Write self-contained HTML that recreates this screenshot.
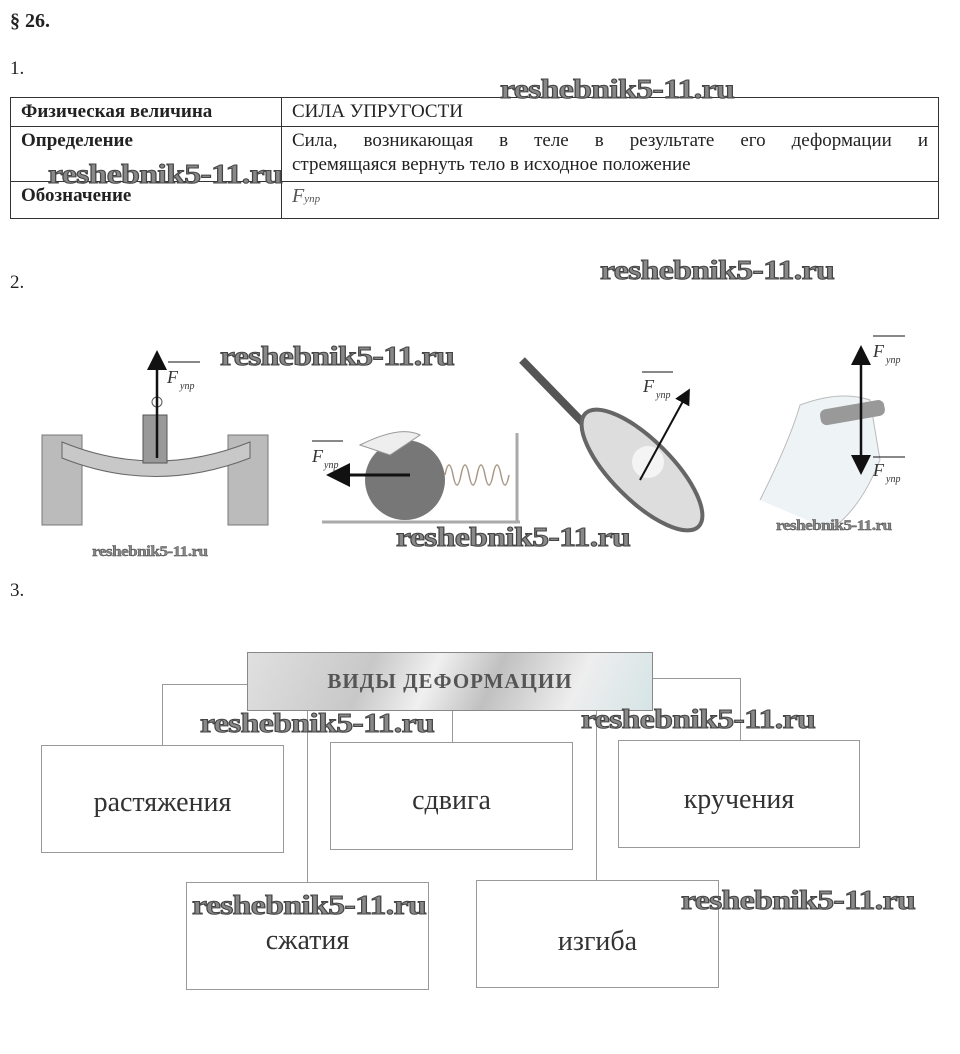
<!DOCTYPE html>
<html><head><meta charset="utf-8"><style>
body{margin:0;width:960px;height:1054px;background:#fff;position:relative;overflow:hidden;font-family:"Liberation Serif","DejaVu Serif",serif;color:#222}
.a{position:absolute}
.wm{position:absolute;font-family:"Liberation Serif",serif;font-weight:bold;font-size:27px;color:#888;-webkit-text-stroke:1px #444;letter-spacing:-0.5px;white-space:nowrap;transform:scaleX(1.25);transform-origin:left top}
.wms{font-size:15px;-webkit-text-stroke:0.4px #444;transform:scaleX(1.15)}
table{border-collapse:collapse;position:absolute;left:10px;top:97px;width:929px;font-size:19px}
td{border:1px solid #333;padding:2px 10px;vertical-align:top;line-height:24px}
td.h{font-weight:bold;width:250px}
.box{position:absolute;border:1.5px solid #999;background:#fff;font-size:28px;text-align:center;box-sizing:border-box;color:#333}
.ln{position:absolute;background:#999}
</style></head><body>
<div class="a" style="left:10px;top:10px;font-size:20px;font-weight:bold">§ 26.</div>
<div class="a" style="left:10px;top:58px;font-size:19px">1.</div>
<table>
<tr><td class="h">Физическая величина</td><td>СИЛА УПРУГОСТИ</td></tr>
<tr><td class="h" style="height:50px">Определение</td><td><div style="text-align:justify;text-align-last:justify">Сила, возникающая в теле в результате его деформации и</div><div>стремящаяся вернуть тело в исходное положение</div></td></tr>
<tr><td class="h" style="height:32px">Обозначение</td><td><i style="font-size:20px;color:#555">F</i><i style="font-size:11px;color:#555">упр</i></td></tr>
</table>
<div class="wm" style="left:500px;top:74px">reshebnik5-11.ru</div>
<div class="wm" style="left:48px;top:159px">reshebnik5-11.ru</div>
<div class="a" style="left:10px;top:272px;font-size:19px">2.</div>
<div class="wm" style="left:600px;top:255px">reshebnik5-11.ru</div>

<svg class="a" style="left:0;top:330px" width="960" height="240">
<defs><marker id="ar" markerWidth="8" markerHeight="8" refX="6" refY="4" orient="auto"><path d="M0,0L8,4L0,8z" fill="#111"/></marker></defs>
<rect x="42" y="105" width="40" height="90" fill="#bbb" stroke="#777"/>
<rect x="228" y="105" width="40" height="90" fill="#bbb" stroke="#777"/>
<path d="M62,112 Q155,150 250,112 L250,128 Q155,165 62,128z" fill="#c8c8c8" stroke="#666"/>
<rect x="143" y="85" width="24" height="48" fill="#999" stroke="#555"/>
<circle cx="157" cy="72" r="5" fill="none" stroke="#555"/>
<line x1="157" y1="128" x2="157" y2="25" stroke="#111" stroke-width="2.5" marker-end="url(#ar)"/>
<line x1="168" y1="32" x2="200" y2="32" stroke="#111"/>
<text x="167" y="53" font-style="italic" font-size="18" fill="#333">F</text><text x="180" y="59" font-style="italic" font-size="10" fill="#333">упр</text>
<line x1="322" y1="192" x2="520" y2="192" stroke="#aaa" stroke-width="3"/>
<line x1="517" y1="103" x2="517" y2="192" stroke="#aaa" stroke-width="3"/>
<circle cx="405" cy="150" r="40" fill="#777"/>
<path d="M360,115 Q400,95 420,105 L390,125z" fill="#eee" stroke="#999"/>
<path d="M445,145 q4,-20 8,0 q4,20 8,0 q4,-20 8,0 q4,20 8,0 q4,-20 8,0 q4,20 8,0 q4,-20 8,0 q4,20 8,0" fill="none" stroke="#a98" stroke-width="1.5"/>
<line x1="410" y1="145" x2="332" y2="145" stroke="#111" stroke-width="3" marker-end="url(#ar)"/>
<line x1="312" y1="111" x2="343" y2="111" stroke="#111"/>
<text x="312" y="132" font-style="italic" font-size="18" fill="#333">F</text><text x="324" y="138" font-style="italic" font-size="10" fill="#333">упр</text>
<line x1="522" y1="30" x2="590" y2="100" stroke="#555" stroke-width="8"/>
<ellipse cx="642" cy="140" rx="30" ry="80" transform="rotate(-45 642 140)" fill="#ddd" stroke="#666" stroke-width="4"/>
<circle cx="648" cy="132" r="16" fill="#f4f4f4"/>
<line x1="640" y1="150" x2="688" y2="62" stroke="#111" stroke-width="2" marker-end="url(#ar)"/>
<line x1="642" y1="42" x2="673" y2="42" stroke="#111"/>
<text x="643" y="62" font-style="italic" font-size="18" fill="#333">F</text><text x="656" y="68" font-style="italic" font-size="10" fill="#333">упр</text>
<path d="M760,170 Q790,110 800,75 Q840,60 870,70 L880,130 Q860,180 830,200" fill="#eef3f5" stroke="#bbb"/>
<rect x="820" y="75" width="65" height="16" rx="6" fill="#999" transform="rotate(-10 850 83)"/>
<line x1="861" y1="75" x2="861" y2="20" stroke="#111" stroke-width="2.5" marker-end="url(#ar)"/>
<line x1="861" y1="75" x2="861" y2="140" stroke="#111" stroke-width="2.5" marker-end="url(#ar)"/>
<line x1="873" y1="6" x2="905" y2="6" stroke="#111"/>
<text x="873" y="27" font-style="italic" font-size="18" fill="#333">F</text><text x="886" y="33" font-style="italic" font-size="10" fill="#333">упр</text>
<line x1="873" y1="127" x2="905" y2="127" stroke="#111"/>
<text x="873" y="146" font-style="italic" font-size="18" fill="#333">F</text><text x="886" y="152" font-style="italic" font-size="10" fill="#333">упр</text>
</svg>
<div class="wm" style="left:220px;top:341px">reshebnik5-11.ru</div>
<div class="wm" style="left:396px;top:522px">reshebnik5-11.ru</div>
<div class="wm wms" style="left:92px;top:544px">reshebnik5-11.ru</div>
<div class="wm wms" style="left:776px;top:518px">reshebnik5-11.ru</div>

<div class="a" style="left:10px;top:580px;font-size:19px">3.</div>

<div class="ln" style="left:162px;top:684px;width:86px;height:1px"></div>
<div class="ln" style="left:162px;top:684px;width:1px;height:62px"></div>
<div class="ln" style="left:652px;top:678px;width:88px;height:1px"></div>
<div class="ln" style="left:740px;top:678px;width:1px;height:62px"></div>
<div class="ln" style="left:307px;top:710px;width:1px;height:172px"></div>
<div class="ln" style="left:452px;top:710px;width:1px;height:33px"></div>
<div class="ln" style="left:596px;top:710px;width:1px;height:170px"></div>
<div class="a" style="left:247px;top:652px;width:404px;height:57px;border:1.5px solid #888;background:linear-gradient(115deg,#e0e0e0 0%,#c8c8c8 30%,#f0f0f0 45%,#c0c0c0 60%,#eee 80%,#d5e4e6 100%);font-weight:bold;font-size:21px;letter-spacing:1px;color:#555;text-align:center;line-height:57px">ВИДЫ ДЕФОРМАЦИИ</div>
<div class="box" style="left:41px;top:745px;width:243px;height:108px;line-height:114px">растяжения</div>
<div class="box" style="left:330px;top:742px;width:243px;height:108px;line-height:116px">сдвига</div>
<div class="box" style="left:618px;top:740px;width:242px;height:108px;line-height:118px">кручения</div>
<div class="box" style="left:186px;top:882px;width:243px;height:108px;line-height:116px">сжатия</div>
<div class="box" style="left:476px;top:880px;width:243px;height:108px;line-height:122px">изгиба</div>
<div class="wm" style="left:200px;top:708px">reshebnik5-11.ru</div>
<div class="wm" style="left:581px;top:704px">reshebnik5-11.ru</div>
<div class="wm" style="left:192px;top:890px">reshebnik5-11.ru</div>
<div class="wm" style="left:681px;top:885px">reshebnik5-11.ru</div>
</body></html>
